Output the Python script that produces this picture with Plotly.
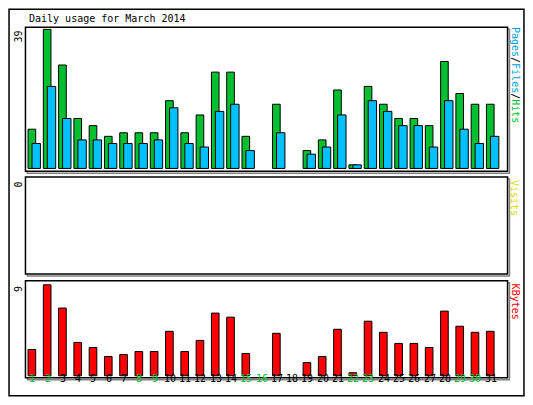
import plotly.graph_objects as go

days = list(range(1, 32))
hits = [11, 39, 29, 14, 12, 9, 10, 10, 10, 19, 10, 15, 27, 27, 9, 0,
        18, 0, 5, 8, 22, 1, 23, 18, 14, 14, 12, 30, 21, 18, 18]
files = [7, 23, 14, 8, 8, 7, 7, 7, 8, 17, 7, 6, 16, 18, 5, 0,
         10, 0, 4, 6, 15, 1, 19, 16, 12, 12, 6, 19, 11, 7, 9]
visits = [0] * 31
kbytes = [2.6, 9, 6.7, 3.3, 2.8, 1.9, 2.1, 2.4, 2.4, 4.4, 2.4, 3.5, 6.2, 5.8, 2.2, 0,
          4.2, 0, 1.3, 1.9, 4.6, 0.3, 5.4, 4.3, 3.2, 3.2, 2.8, 6.4, 4.9, 4.3, 4.4]
weekend = {1, 2, 8, 9, 15, 16, 22, 23, 29, 30}

W, H = 533, 405
MONO = "DejaVu Sans Mono"
GREEN, BLUE, RED = "#00C030", "#00C0FF", "#FF0000"

def py(px):
    return 1 - px / H

def pxx(px):
    return px / W

def nz(vals):
    # zero days draw no bar at all
    return [v if v else None for v in vals]

panels = [(20, 170), (176, 277), (284, 385)]  # pixel top/bottom
x0, x1 = 18, 515

fig = go.Figure()
bar_line = dict(color="black", width=1)
fig.add_trace(go.Bar(x=days, y=nz(hits), width=0.5, offset=-0.28, marker=dict(color=GREEN, line=bar_line),
                     xaxis="x", yaxis="y", name="Hits"))
fig.add_trace(go.Bar(x=days, y=nz(files), width=0.55, offset=-0.02, marker=dict(color=BLUE, line=bar_line),
                     xaxis="x", yaxis="y", name="Files"))
fig.add_trace(go.Bar(x=days, y=nz(visits), width=0.5, offset=-0.28, marker=dict(color="#FFFF00", line=bar_line),
                     xaxis="x2", yaxis="y2", name="Visits"))
fig.add_trace(go.Bar(x=days, y=nz(kbytes), width=0.5, offset=-0.28, marker=dict(color=RED, line=bar_line),
                     xaxis="x3", yaxis="y3", name="KBytes"))

ax = dict(range=[0.55, 32.1], showgrid=False, zeroline=False, showticklabels=False,
          domain=[pxx(x0), pxx(x1)], fixedrange=True)
fig.update_layout(
    xaxis=dict(ax, anchor="y"),
    xaxis2=dict(ax, anchor="y2"),
    xaxis3=dict(ax, anchor="y3"),
    yaxis=dict(range=[-0.8, 39.6], domain=[py(panels[0][1]), py(panels[0][0])],
               showgrid=False, zeroline=False, showticklabels=False),
    yaxis2=dict(range=[0, 1], domain=[py(panels[1][1]), py(panels[1][0])],
                showgrid=False, zeroline=False, showticklabels=False),
    yaxis3=dict(range=[-0.2, 9.4], domain=[py(panels[2][1]), py(panels[2][0])],
                showgrid=False, zeroline=False, showticklabels=False),
    autosize=True, margin=dict(l=0, r=0, t=0, b=0),
    paper_bgcolor="white", plot_bgcolor="white", showlegend=False, barmode="overlay",
    font=dict(family=MONO, size=10, color="black"),
)

shapes = [dict(type="rect", xref="paper", yref="paper", x0=0.002, x1=0.998, y0=0.003, y1=0.997,
               line=dict(color="black", width=1.5))]
for t, b in panels:
    shapes.append(dict(type="rect", xref="paper", yref="paper", x0=pxx(x0 + 2), x1=pxx(x1 + 2),
                       y0=py(b + 2), y1=py(t + 2), line=dict(color="#808080", width=1.5), layer="below"))
    shapes.append(dict(type="rect", xref="paper", yref="paper", x0=pxx(x0), x1=pxx(x1),
                       y0=py(b), y1=py(t), line=dict(color="black", width=1.5), fillcolor="white",
                       layer="below"))
fig.update_layout(shapes=shapes)

ann = [dict(text="Daily usage for March 2014", x=pxx(20), y=py(11), xanchor="left", yanchor="middle"),
       dict(text=str(max(hits)), x=pxx(11), y=py(30), textangle=-90),
       dict(text=str(max(visits)), x=pxx(11), y=py(184), textangle=-90),
       dict(text=str(round(max(kbytes))), x=pxx(11), y=py(293), textangle=-90),
       dict(text="<span style='color:#00A0E0'>Pages</span>/<span style='color:#00A0E0'>Files</span>/"
                 "<span style='color:#00C030'>Hits</span>",
            x=pxx(523), y=py(70), textangle=90),
       dict(text="<span style='color:#E0E000'>Visits</span>", x=pxx(523), y=py(198), textangle=90),
       dict(text="<span style='color:#FF0000'>KBytes</span>", x=pxx(523), y=py(306), textangle=90)]
for a in ann:
    a.update(xref="paper", yref="paper", showarrow=False, font=dict(family=MONO, size=10))
    if "xanchor" not in a:
        a.update(xanchor="center", yanchor="middle")
for d in days:
    ann.append(dict(text=str(d), x=d, y=py(394), xref="x3", yref="paper", showarrow=False,
                    font=dict(family=MONO, size=10, color=GREEN if d in weekend else "black")))
fig.update_layout(annotations=ann)

fig.write_html("out.html", default_width="100%", default_height="100%",
               config={"displayModeBar": False, "responsive": True})
